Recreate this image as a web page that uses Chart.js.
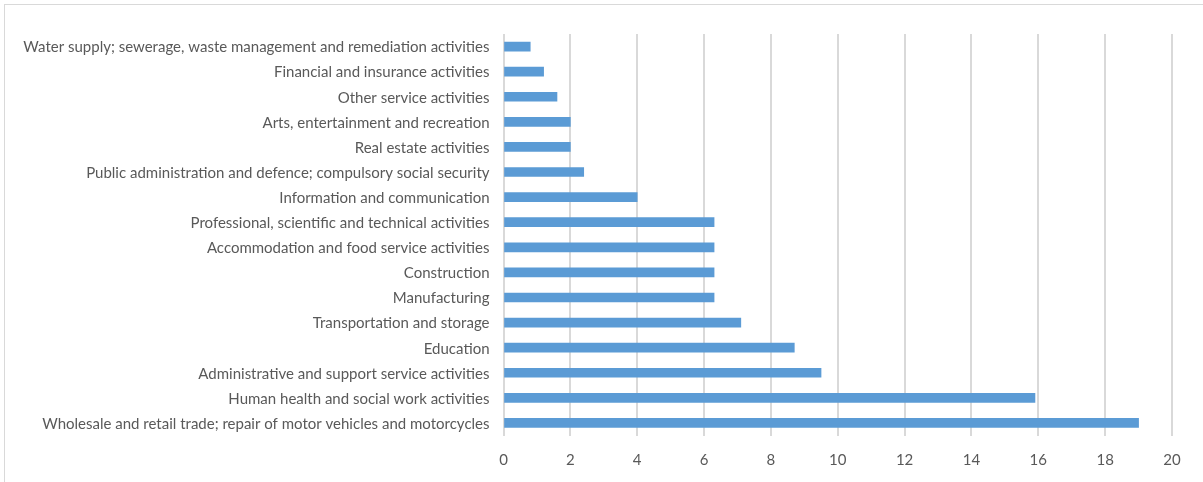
<!DOCTYPE html>
<html>
<head>
<meta charset="utf-8">
<script src="https://cdn.jsdelivr.net/npm/chart.js@4"></script>
<style>
  body { margin: 0; background: #fff; }
  #wrap { position: relative; width: 1203px; height: 482px; }
  #frame { position: absolute; left: 4px; top: 4px; width: 1220px; height: 500px;
           border: 1px solid #d9d9d9; box-sizing: border-box; }
  canvas { position: absolute; left: 0; top: 0; }
</style>
</head>
<body>
<div id="wrap">
  <div id="frame"></div>
  <canvas id="sectors" width="1203" height="482"></canvas>
</div>
<script>
// Sectors, top to bottom
const sectors = [
    'Water supply; sewerage, waste management and remediation activities',
    'Financial and insurance activities',
    'Other service activities',
    'Arts, entertainment and recreation',
    'Real estate activities',
    'Public administration and defence; compulsory social security',
    'Information and communication',
    'Professional, scientific and technical activities',
    'Accommodation and food service activities',
    'Construction',
    'Manufacturing',
    'Transportation and storage',
    'Education',
    'Administrative and support service activities',
    'Human health and social work activities',
    'Wholesale and retail trade; repair of motor vehicles and motorcycles'
];
const shares = [0.8, 1.2, 1.6, 2.0, 2.0, 2.4, 4.0, 6.3, 6.3, 6.3, 6.3, 7.1, 8.7, 9.5, 15.9, 19.0];
const axisMin = 0, axisMax = 20, axisStep = 2;

const font = { family: 'Lato, "Liberation Sans", sans-serif', size: 15 };

let sectorChart;

function createChart() {
    const ctx = document.getElementById('sectors').getContext('2d');
    if (sectorChart) sectorChart.destroy();

    sectorChart = new Chart(ctx, {
        type: 'bar',
        data: {
            labels: sectors,
            datasets: [{
                data: shares,
                backgroundColor: '#5b9bd5',
                barThickness: 9
            }]
        },
        options: {
            indexAxis: 'y',
            responsive: false,
            animation: false,
            layout: { padding: { top: 34, left: 0, right: 31, bottom: 0 } },
            plugins: {
                legend: { display: false },
                tooltip: { enabled: false }
            },
            scales: {
                x: {
                    min: axisMin,
                    max: axisMax,
                    ticks: { stepSize: axisStep, color: '#595959', font: font, padding: 16 },
                    grid: { color: '#d9d9d9', lineWidth: 2, drawTicks: false },
                    border: { display: false },
                    afterFit: (scale) => { scale.height = 46.5; }
                },
                y: {
                    ticks: { color: '#595959', font: font, padding: 14, autoSkip: false, labelOffset: 1 },
                    grid: { display: false, drawTicks: false },
                    border: { display: false },
                    afterFit: (scale) => { scale.width = 503.5; }
                }
            }
        }
    });
}

createChart();
</script>
</body>
</html>
